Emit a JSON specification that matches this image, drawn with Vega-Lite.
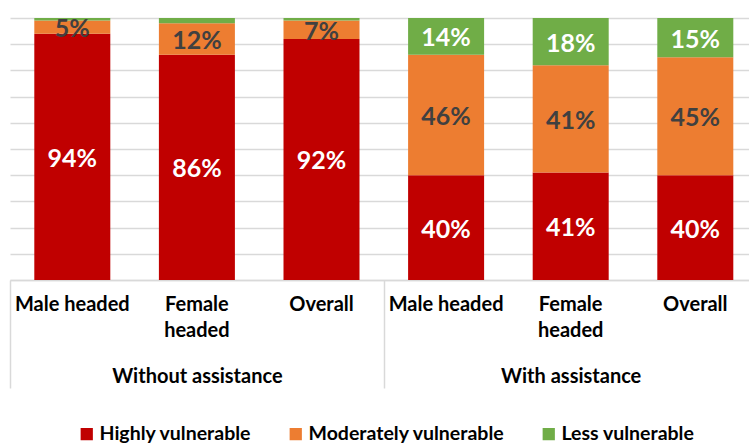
{
  "$schema": "https://vega.github.io/schema/vega-lite/v6.json",
  "width": 739,
  "height": 262,
  "autosize": {"type": "none"},
  "padding": {"left": 10, "top": 18, "right": 0, "bottom": 164},
  "config": {"view": {"stroke": null}, "font": "Lato"},
  "datasets": {
    "bars": [
      {"key": "Without assistance|Male headed", "level": "Highly vulnerable", "rank": 1, "share": 0.94},
      {"key": "Without assistance|Male headed", "level": "Moderately vulnerable", "rank": 2, "share": 0.05},
      {"key": "Without assistance|Male headed", "level": "Less vulnerable", "rank": 3, "share": 0.01},
      {"key": "Without assistance|Female headed", "level": "Highly vulnerable", "rank": 1, "share": 0.86},
      {"key": "Without assistance|Female headed", "level": "Moderately vulnerable", "rank": 2, "share": 0.12},
      {"key": "Without assistance|Female headed", "level": "Less vulnerable", "rank": 3, "share": 0.02},
      {"key": "Without assistance|Overall", "level": "Highly vulnerable", "rank": 1, "share": 0.92},
      {"key": "Without assistance|Overall", "level": "Moderately vulnerable", "rank": 2, "share": 0.07},
      {"key": "Without assistance|Overall", "level": "Less vulnerable", "rank": 3, "share": 0.01},
      {"key": "With assistance|Male headed", "level": "Highly vulnerable", "rank": 1, "share": 0.40},
      {"key": "With assistance|Male headed", "level": "Moderately vulnerable", "rank": 2, "share": 0.46},
      {"key": "With assistance|Male headed", "level": "Less vulnerable", "rank": 3, "share": 0.14},
      {"key": "With assistance|Female headed", "level": "Highly vulnerable", "rank": 1, "share": 0.41},
      {"key": "With assistance|Female headed", "level": "Moderately vulnerable", "rank": 2, "share": 0.41},
      {"key": "With assistance|Female headed", "level": "Less vulnerable", "rank": 3, "share": 0.18},
      {"key": "With assistance|Overall", "level": "Highly vulnerable", "rank": 1, "share": 0.40},
      {"key": "With assistance|Overall", "level": "Moderately vulnerable", "rank": 2, "share": 0.45},
      {"key": "With assistance|Overall", "level": "Less vulnerable", "rank": 3, "share": 0.15}
    ],
    "groups": [
      {"group": "Without assistance"},
      {"group": "With assistance"}
    ]
  },
  "layer": [
    {
      "data": {"name": "bars"},
      "encoding": {
        "x": {
          "field": "key", "type": "nominal", "sort": null,
          "scale": {"range": [0, 747.6], "paddingInner": 0.39, "paddingOuter": 0.195},
          "axis": {
            "title": null, "orient": "bottom", "ticks": false,
            "domainColor": "#d9d9d9", "domainWidth": 1.5,
            "labelExpr": "split(datum.label,'|')[1] == 'Female headed' ? ['Female','headed'] : split(datum.label,'|')[1]",
            "labelPadding": 14, "labelFontSize": 20, "labelFont": "Lato", "labelFontWeight": "bold",
            "labelColor": "black", "labelLineHeight": 26, "labelAngle": 0, "labelOverlap": false,
            "labelLimit": 0, "labelBaseline": "top"
          }
        },
        "y": {
          "field": "share", "type": "quantitative", "stack": "zero",
          "scale": {"domain": [0, 1], "nice": false},
          "axis": {
            "title": null, "labels": false, "ticks": false, "domain": false, "grid": true,
            "values": [0, 0.1, 0.2, 0.3, 0.4, 0.5, 0.6, 0.7, 0.8, 0.9, 1],
            "gridColor": "#d9d9d9", "gridWidth": 1.5
          }
        },
        "order": {"field": "rank", "type": "quantitative"}
      },
      "layer": [
        {
          "mark": {"type": "bar"},
          "encoding": {
            "color": {
              "field": "level", "type": "nominal",
              "scale": {"domain": ["Highly vulnerable", "Moderately vulnerable", "Less vulnerable"], "range": ["#C00000", "#ED7D31", "#70AD47"]},
              "legend": {
                "title": null, "orient": "none", "legendX": 67, "legendY": 406, "direction": "horizontal",
                "symbolType": "square", "symbolSize": 150, "symbolStrokeWidth": 0,
                "labelFontSize": 19.5, "labelFont": "Lato", "labelFontWeight": "bold", "labelColor": "black",
                "labelLimit": 0, "columnPadding": 34, "labelOffset": 3
              }
            }
          }
        },
        {
          "transform": [{"filter": "datum.share >= 0.03"}],
          "mark": {"type": "text", "fontSize": 25, "fontWeight": "bold", "font": "Lato", "dy": 2},
          "encoding": {
            "y": {"field": "share", "type": "quantitative", "stack": "zero", "bandPosition": 0.5},
            "detail": {"field": "level"},
            "text": {"field": "share", "type": "quantitative", "format": ".0%"},
            "color": {"condition": {"test": "datum.level == 'Moderately vulnerable'", "value": "#404040"}, "value": "white"}
          }
        }
      ]
    },
    {
      "data": {"name": "groups"},
      "mark": {"type": "rule", "opacity": 0},
      "encoding": {
        "x": {
          "field": "group", "type": "nominal", "sort": null,
          "scale": {"type": "band", "domain": ["Without assistance", "With assistance"], "range": [0, 747.6], "paddingInner": 0, "paddingOuter": 0},
          "axis": {
            "title": null, "orient": "bottom", "domain": false, "ticks": true, "tickBand": "extent",
            "tickSize": 108, "tickColor": "#d9d9d9", "tickWidth": 1.5, "labelPadding": -22,
            "labelFontSize": 20, "labelFont": "Lato", "labelFontWeight": "bold", "labelColor": "black",
            "labelAngle": 0, "grid": false, "labelLimit": 0, "labelBaseline": "top"
          }
        }
      }
    }
  ],
  "resolve": {"scale": {"x": "independent"}, "axis": {"x": "independent"}}
}
